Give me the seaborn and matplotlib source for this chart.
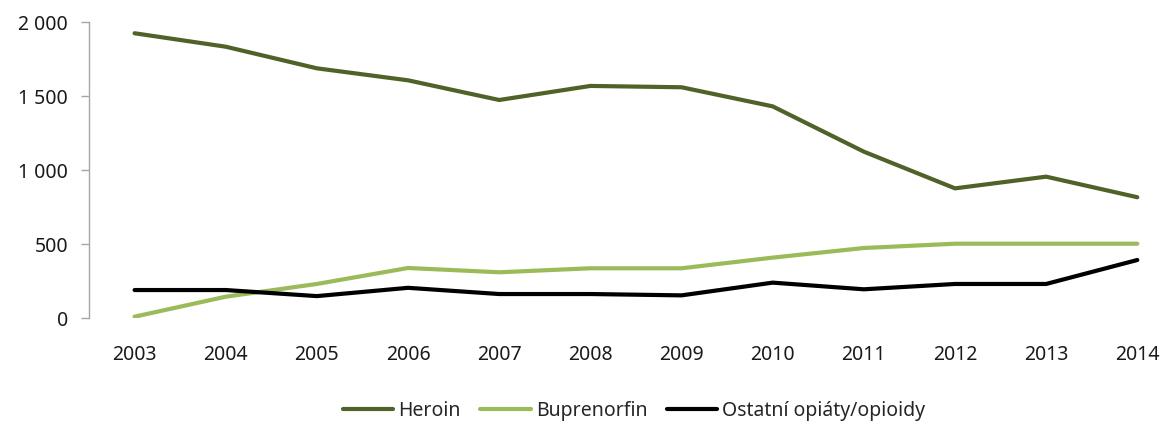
import pandas as pd
import matplotlib
matplotlib.use("Agg")
import matplotlib.pyplot as plt
import seaborn as sns
from matplotlib.ticker import FuncFormatter

years = ["2003", "2004", "2005", "2006", "2007", "2008",
         "2009", "2010", "2011", "2012", "2013", "2014"]
heroin = [1926, 1835, 1689, 1608, 1475, 1570, 1561, 1432, 1126, 878, 957, 818]
buprenorfin = [11, 146, 232, 340, 311, 338, 338, 410, 475, 504, 504, 504]
ostatni = [191, 191, 150, 206, 164, 164, 155, 241, 196, 232, 232, 394]
series_names = ["Heroin", "Buprenorfin", "Ostatní opiáty/opioidy"]
colors = ["#4F6228", "#9BBB59", "#000000"]

# long-form table for seaborn
df = pd.DataFrame({
    "rok": years * 3,
    "pocet": heroin + buprenorfin + ostatni,
    "serie": [s for s in series_names for _ in years],
})
df["x"] = df["rok"].map({y: i for i, y in enumerate(years)})

sns.set_style("white")
plt.rcParams["font.family"] = ["Noto Sans", "DejaVu Sans"]

fig = plt.figure(figsize=(11.61, 4.23), dpi=100)
ax = fig.add_axes([89 / 1161, 0.2475, 1 - 89 / 1161, 0.6998])

sns.lineplot(data=df, x="x", y="pocet", hue="serie", hue_order=series_names,
             palette=colors, linewidth=3, ax=ax, legend=False)

ax.set_xlim(-0.5, 11.26)
ax.set_ylim(0, 2000)
ax.set_xticks(range(len(years)))
ax.set_xticklabels(years)
ax.set_yticks([0, 500, 1000, 1500, 2000])
ax.yaxis.set_major_formatter(FuncFormatter(lambda v, p: f"{int(v):,}".replace(",", " ")))
ax.set_xlabel("")
ax.set_ylabel("")

for side in ["top", "right", "bottom"]:
    ax.spines[side].set_visible(False)
ax.spines["left"].set_color("#A6A6A6")
ax.spines["left"].set_linewidth(1)
ax.tick_params(axis="y", left=True, length=6, width=1, color="#A6A6A6",
               pad=9, labelsize=14, labelcolor="#1a1a1a")
ax.tick_params(axis="x", bottom=False, pad=16, labelsize=14, labelcolor="#1a1a1a")

handles = [plt.Line2D([], [], color=c, linewidth=3) for c in colors]
fig.legend(handles, series_names, loc="center", bbox_to_anchor=(634 / 1161, 1 - 411 / 423),
           ncol=3, frameon=False, fontsize=14, handlelength=2.6, handletextpad=0.25,
           columnspacing=1.0)

fig.savefig("out.png", dpi=100)
